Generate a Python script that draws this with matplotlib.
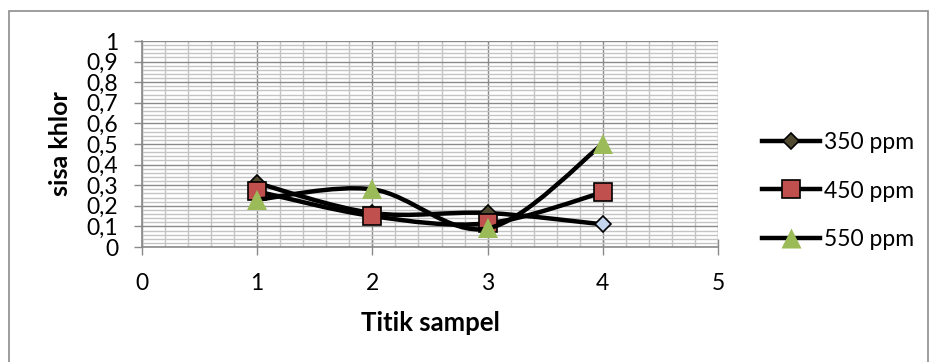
import numpy as np
import matplotlib
matplotlib.use("Agg")
import matplotlib.pyplot as plt
from matplotlib.path import Path
from matplotlib.patches import PathPatch, Rectangle
from matplotlib.lines import Line2D

plt.rcParams['font.family'] = ['Lato', 'DejaVu Sans']

# ---- data ----
x_points = [1, 2, 3, 4]
series_names = ["350 ppm", "450 ppm", "550 ppm"]
vals_350 = [0.31, 0.165, 0.165, 0.11]
vals_450 = [0.27, 0.15, 0.115, 0.265]
vals_550 = [0.23, 0.28, 0.09, 0.50]
y_ticks = [0, 0.1, 0.2, 0.3, 0.4, 0.5, 0.6, 0.7, 0.8, 0.9, 1]
y_tick_labels = ["0", "0,1", "0,2", "0,3", "0,4", "0,5", "0,6", "0,7", "0,8", "0,9", "1"]
x_ticks = [0, 1, 2, 3, 4, 5]
x_label = "Titik sampel"
y_label = "sisa khlor"

W, H = 930, 362
fig = plt.figure(figsize=(W / 100, H / 100), dpi=100)
ax = fig.add_axes([142 / W, 1 - 247 / H, (718 - 142) / W, (247 - 41) / H])

# outer chart border
fig.patches.append(Rectangle((9 / W, -0.1), (928 - 9) / W, (1 - 11 / H) + 0.1,
                             transform=fig.transFigure, fill=False,
                             edgecolor="#8c8c8c", linewidth=1.2, zorder=0))

ax.set_xlim(0, 5)
ax.set_ylim(0, 1)

# grid
ax.set_yticks(y_ticks)
ax.set_yticklabels(y_tick_labels)
ax.set_yticks(np.arange(0, 1.0001, 0.02), minor=True)
ax.set_xticks(x_ticks)
ax.set_xticks(np.arange(0, 5.0001, 0.2), minor=True)
ax.grid(which="minor", color="#c4c4c4", linewidth=1.0, zorder=0)
ax.grid(which="major", color="#8a8a8a", linewidth=1.0, zorder=0)
ax.set_axisbelow(True)

for s in ["top", "right"]:
    ax.spines[s].set_visible(False)
ax.spines["left"].set_color("#8a8a8a")
ax.spines["bottom"].set_color("#8a8a8a")
ax.spines["left"].set_linewidth(1.2)
ax.spines["bottom"].set_linewidth(1.2)

ax.tick_params(axis="y", which="major", direction="out", length=6, width=1,
               color="#8a8a8a", pad=11, labelsize=16.5)
ax.tick_params(axis="x", which="major", direction="inout", length=12, width=1,
               color="#8a8a8a", pad=13, labelsize=16.5)
ax.tick_params(which="minor", length=0)

ax.set_xlabel(x_label, fontsize=18.5, fontweight="bold", va="center")
ax.xaxis.set_label_coords(0.5, (247 - 323) / 206)
ax.set_ylabel(y_label, fontsize=18, fontweight="bold", va="center")
ax.yaxis.set_label_coords((61 - 142) / 576, 0.5)


def smooth_path(xs, ys):
    pts = list(zip(xs, ys))
    n = len(pts)
    verts = [pts[0]]
    codes = [Path.MOVETO]
    for i in range(n - 1):
        p0 = pts[i - 1] if i > 0 else pts[i]
        p1 = pts[i]
        p2 = pts[i + 1]
        p3 = pts[i + 2] if i + 2 < n else pts[i + 1]
        c1 = (p1[0] + (p2[0] - p0[0]) / 6, p1[1] + (p2[1] - p0[1]) / 6)
        c2 = (p2[0] - (p3[0] - p1[0]) / 6, p2[1] - (p3[1] - p1[1]) / 6)
        verts += [c1, c2, p2]
        codes += [Path.CURVE4] * 3
    return Path(verts, codes)


lw = 3.2
series = [
    (vals_350, "D", 8, ["#4f4a30", "#4f4a30", "#4f4a30", "#c5d5ee"], "black"),
    (vals_450, "s", 12.5, ["#c0504d"] * 4, "black"),
    (vals_550, "^", 14, ["#9bbb59"] * 4, "none"),
]
z = 3
for vals, mk, ms, fills, ec in series:
    patch = PathPatch(smooth_path(x_points, vals), facecolor="none",
                      edgecolor="black", linewidth=lw, zorder=z,
                      capstyle="round", joinstyle="round")
    ax.add_patch(patch)
    for xi, yi, fc in zip(x_points, vals, fills):
        ax.plot([xi], [yi], marker=mk, markersize=ms, markerfacecolor=fc,
                markeredgecolor=ec, markeredgewidth=1.2, linestyle="none",
                zorder=z + 1, clip_on=False)
    z += 2

handles = [
    Line2D([], [], color="black", linewidth=lw, marker="D", markersize=8,
           markerfacecolor="#4f4a30", markeredgecolor="black", markeredgewidth=1.2),
    Line2D([], [], color="black", linewidth=lw, marker="s", markersize=12.5,
           markerfacecolor="#c0504d", markeredgecolor="black", markeredgewidth=1.2),
    Line2D([], [], color="black", linewidth=lw, marker="^", markersize=14,
           markerfacecolor="#9bbb59", markeredgecolor="none"),
]
fig.legend(handles, series_names, loc="center left",
           bbox_to_anchor=(762 / W, 1 - 191 / H), frameon=False, fontsize=16.5,
           handlelength=2.55, handletextpad=0.15, labelspacing=1.2,
           borderpad=0, borderaxespad=0)

fig.savefig("out.png", dpi=100)
